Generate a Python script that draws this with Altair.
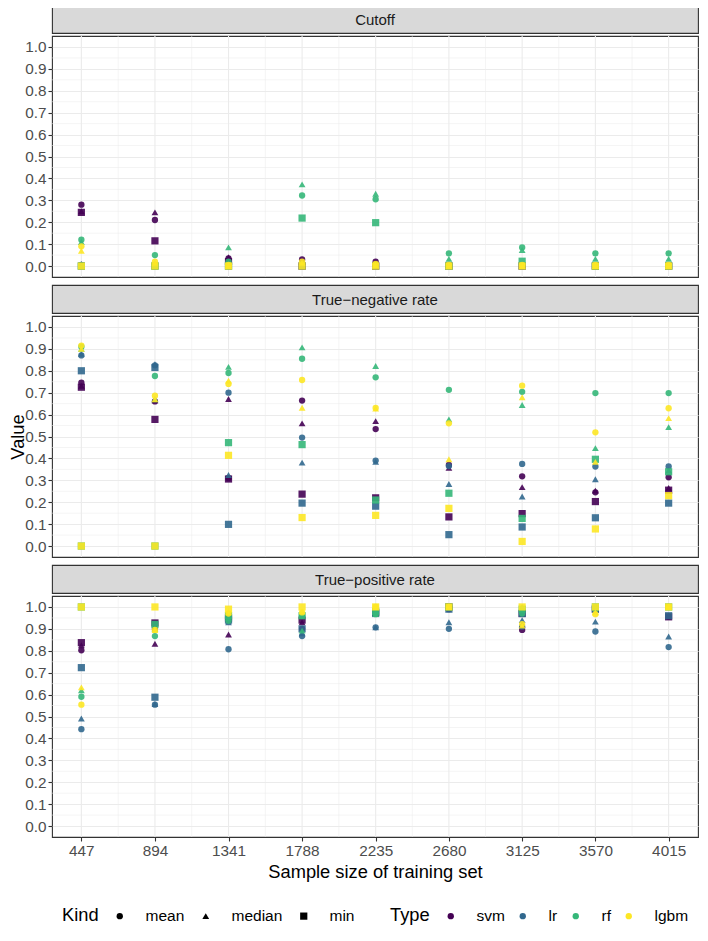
import altair as alt
import pandas as pd

FONT = "Liberation Sans"

sizes = [447, 894, 1341, 1788, 2235, 2680, 3125, 3570, 4015]
metrics = ["Cutoff", "True\u2212negative rate", "True\u2212positive rate"]
kinds = ["mean", "median", "min"]
types = ["svm", "lr", "rf", "lgbm"]
type_colors = ["#440154", "#31688E", "#35B779", "#FDE725"]
kind_shapes = ["circle", "triangle-up", "square"]
kind_sizes = [40, 52, 34]
y_breaks = [0.0, 0.1, 0.2, 0.3, 0.4, 0.5, 0.6, 0.7, 0.8, 0.9, 1.0]

# ---- Cutoff ----
cut_svm_mean = [0.28, 0.21, 0.035, 0.03, 0.02, 0.005, 0.005, 0.003, 0.003]
cut_svm_median = [0.25, 0.245, 0.04, 0.02, 0.015, 0.0, 0.0, 0.0, 0.0]
cut_svm_min = [0.245, 0.115, 0.02, 0.0, 0.0, 0.0, 0.0, 0.0, 0.0]
cut_lr_mean = [0.005, 0.0, 0.0, 0.01, 0.005, 0.0, 0.0, 0.0, 0.0]
cut_lr_median = [0.01, 0.0, 0.0, 0.0, 0.0, 0.0, 0.0, 0.0, 0.0]
cut_lr_min = [0.0, 0.0, 0.0, 0.0, 0.0, 0.0, 0.0, 0.0, 0.0]
cut_rf_mean = [0.12, 0.05, 0.02, 0.322, 0.305, 0.058, 0.085, 0.058, 0.058]
cut_rf_median = [0.11, 0.01, 0.085, 0.373, 0.33, 0.033, 0.073, 0.033, 0.033]
cut_rf_min = [0.0, 0.0, 0.0, 0.219, 0.198, 0.0, 0.022, 0.0, 0.0]
cut_lgbm_mean = [0.09, 0.02, 0.005, 0.02, 0.01, 0.005, 0.005, 0.005, 0.005]
cut_lgbm_median = [0.07, 0.015, 0.0, 0.015, 0.005, 0.0, 0.0, 0.0, 0.0]
cut_lgbm_min = [0.0, 0.0, 0.0, 0.0, 0.0, 0.0, 0.0, 0.0, 0.0]

# ---- True-negative rate ----
tnr_svm_mean = [0.746, 0.66, 0.31, 0.664, 0.534, 0.37, 0.318, 0.245, 0.314]
tnr_svm_median = [0.731, 0.665, 0.671, 0.56, 0.57, 0.357, 0.269, 0.253, 0.265]
tnr_svm_min = [0.725, 0.578, 0.306, 0.237, 0.22, 0.133, 0.148, 0.203, 0.255]
tnr_lr_mean = [0.87, 0.825, 0.70, 0.495, 0.39, 0.365, 0.375, 0.363, 0.363]
tnr_lr_median = [0.877, 0.83, 0.324, 0.381, 0.384, 0.283, 0.226, 0.305, 0.345]
tnr_lr_min = [0.80, 0.815, 0.099, 0.196, 0.182, 0.052, 0.087, 0.129, 0.196]
tnr_rf_mean = [0.91, 0.776, 0.79, 0.855, 0.77, 0.713, 0.704, 0.698, 0.698]
tnr_rf_median = [0.90, 0.67, 0.818, 0.907, 0.822, 0.578, 0.644, 0.447, 0.543]
tnr_rf_min = [0.0, 0.0, 0.472, 0.463, 0.21, 0.241, 0.126, 0.396, 0.339]
tnr_lgbm_mean = [0.915, 0.686, 0.74, 0.758, 0.63, 0.56, 0.732, 0.519, 0.629]
tnr_lgbm_median = [0.90, 0.67, 0.755, 0.631, 0.628, 0.396, 0.679, 0.384, 0.584]
tnr_lgbm_min = [0.0, 0.0, 0.414, 0.13, 0.14, 0.172, 0.021, 0.078, 0.23]

# ---- True-positive rate ----
tpr_svm_mean = [0.802, 0.90, 0.94, 0.90, 0.97, 0.99, 0.895, 0.99, 0.955]
tpr_svm_median = [0.825, 0.832, 0.874, 0.93, 0.97, 1.0, 0.92, 1.0, 0.96]
tpr_svm_min = [0.837, 0.927, 0.95, 0.94, 0.975, 1.0, 0.97, 0.99, 0.955]
tpr_lr_mean = [0.442, 0.554, 0.807, 0.867, 0.907, 0.90, 0.91, 0.888, 0.817]
tpr_lr_median = [0.491, 0.557, 0.93, 0.88, 0.907, 0.93, 0.94, 0.933, 0.865]
tpr_lr_min = [0.723, 0.588, 0.94, 0.90, 0.97, 0.99, 0.97, 0.99, 0.96]
tpr_rf_mean = [0.59, 0.867, 0.937, 0.96, 0.967, 1.0, 0.97, 0.99, 1.0]
tpr_rf_median = [0.62, 0.90, 0.95, 0.892, 0.967, 1.0, 1.0, 1.0, 1.0]
tpr_rf_min = [1.0, 0.92, 0.96, 0.96, 0.98, 1.0, 0.99, 1.0, 1.0]
tpr_lgbm_mean = [0.554, 0.895, 0.97, 0.975, 1.0, 1.0, 0.922, 0.967, 1.0]
tpr_lgbm_median = [0.633, 0.895, 0.975, 0.98, 1.0, 1.0, 0.915, 0.975, 1.0]
tpr_lgbm_min = [1.0, 1.0, 0.99, 1.0, 1.0, 1.0, 1.0, 1.0, 1.0]

series = {
    metrics[0]: {
        "svm": [cut_svm_mean, cut_svm_median, cut_svm_min],
        "lr": [cut_lr_mean, cut_lr_median, cut_lr_min],
        "rf": [cut_rf_mean, cut_rf_median, cut_rf_min],
        "lgbm": [cut_lgbm_mean, cut_lgbm_median, cut_lgbm_min],
    },
    metrics[1]: {
        "svm": [tnr_svm_mean, tnr_svm_median, tnr_svm_min],
        "lr": [tnr_lr_mean, tnr_lr_median, tnr_lr_min],
        "rf": [tnr_rf_mean, tnr_rf_median, tnr_rf_min],
        "lgbm": [tnr_lgbm_mean, tnr_lgbm_median, tnr_lgbm_min],
    },
    metrics[2]: {
        "svm": [tpr_svm_mean, tpr_svm_median, tpr_svm_min],
        "lr": [tpr_lr_mean, tpr_lr_median, tpr_lr_min],
        "rf": [tpr_rf_mean, tpr_rf_median, tpr_rf_min],
        "lgbm": [tpr_lgbm_mean, tpr_lgbm_median, tpr_lgbm_min],
    },
}

rows = []
for m in metrics:
    for t in types:
        for k, vals in zip(kinds, series[m][t]):
            for s, v in zip(sizes, vals):
                rows.append({"metric": m, "type": t, "kind": k, "size": s, "value": v})
df = pd.DataFrame(rows)

W = 646
H = 241
STRIP_H = 28

span = sizes[-1] - sizes[0]
x_dom = [sizes[0] - 0.05 * span, sizes[-1] + 0.05 * span]
y_dom = [-0.05, 1.05]
x_minor = [(a + b) / 2 for a, b in zip(sizes[:-1], sizes[1:])]
y_minor = [round(b + 0.05, 2) for b in y_breaks[:-1]]

xscale = alt.Scale(domain=x_dom, nice=False, zero=False)
yscale = alt.Scale(domain=y_dom, nice=False, zero=False)

kind_legend = alt.Legend(
    title="Kind", orient="none", legendX=10, legendY=903,
    direction="horizontal", titleOrient="left",
    labelOffset=18, columnPadding=13, titlePadding=13,
    symbolFillColor="#000000", symbolStrokeColor="#000000",
    symbolStrokeWidth=0, symbolOpacity=1, labelFontSize=15.5,
)
type_legend = alt.Legend(
    title="Type", orient="none", legendX=338, legendY=903,
    direction="horizontal", titleOrient="left", symbolType="circle",
    symbolSize=40, labelOffset=18, columnPadding=10, titlePadding=13,
    symbolStrokeWidth=0, symbolOpacity=1, labelFontSize=15.5,
)


def panel(metric, idx):
    bottom = idx == 2
    middle = idx == 1
    d = df[df.metric == metric]
    if bottom:
        x_axis = alt.Axis(values=sizes, grid=False, format="d",
                          title="Sample size of training set", titlePadding=5,
                          labelFlush=False)
    else:
        x_axis = None
    y_axis = alt.Axis(values=y_breaks, format=".1f", grid=True,
                      title="Value" if middle else None, titlePadding=-3,
                      labelFlush=False)

    minor_y = alt.Chart(pd.DataFrame({"v": y_minor})).mark_rule(
        color="#EBEBEB", strokeWidth=0.55
    ).encode(y=alt.Y("v:Q", scale=yscale, axis=y_axis))
    minor_x = alt.Chart(pd.DataFrame({"u": x_minor})).mark_rule(
        color="#EBEBEB", strokeWidth=0.55
    ).encode(x=alt.X("u:Q", scale=xscale, axis=x_axis))
    major_x = alt.Chart(pd.DataFrame({"u": sizes})).mark_rule(
        color="#EBEBEB", strokeWidth=1.1
    ).encode(x=alt.X("u:Q", scale=xscale, axis=x_axis))

    pts = alt.Chart(d).mark_point(filled=True, opacity=0.9, strokeWidth=0).encode(
        x=alt.X("size:Q", scale=xscale, axis=x_axis),
        y=alt.Y("value:Q", scale=yscale, axis=y_axis),
        color=alt.Color(
            "type:N",
            scale=alt.Scale(domain=types, range=type_colors),
            legend=type_legend,
        ),
        shape=alt.Shape(
            "kind:N",
            scale=alt.Scale(domain=kinds, range=kind_shapes),
            legend=kind_legend,
        ),
        size=alt.Size(
            "kind:N",
            scale=alt.Scale(domain=kinds, range=kind_sizes),
            legend=kind_legend,
        ),
    )

    plot = alt.layer(minor_y, minor_x, major_x, pts).properties(
        width=W, height=H,
        view=alt.ViewBackground(fill="white", stroke="#333333", strokeWidth=1.1),
    )

    strip = alt.Chart(pd.DataFrame({"label": [metric]})).mark_text(
        font=FONT, fontSize=15, color="#1A1A1A", baseline="middle", align="center"
    ).encode(
        text="label:N", x=alt.value(W / 2), y=alt.value(STRIP_H / 2 + 1)
    ).properties(
        width=W, height=STRIP_H,
        view=alt.ViewBackground(fill="#D9D9D9", stroke="#333333", strokeWidth=1.1),
    )
    return alt.vconcat(strip, plot, spacing=0)


chart = alt.vconcat(*[panel(m, i) for i, m in enumerate(metrics)], spacing=5).properties(
    padding={"top": -4, "left": 0, "right": 0, "bottom": 0}
).configure_axis(
    labelFont=FONT, titleFont=FONT, labelFontSize=15.3, titleFontSize=18.3,
    labelColor="#4D4D4D", titleColor="#000000", titleFontWeight="normal",
    tickColor="#333333", tickSize=4, tickWidth=1.1, labelPadding=2, domain=False,
    gridColor="#EBEBEB", gridWidth=1.1,
).configure_legend(
    labelFont=FONT, titleFont=FONT, labelFontSize=15.5, titleFontSize=18.3,
    titleFontWeight="normal", labelColor="#000000", titleColor="#000000",
).configure_view(strokeWidth=1.1)

chart.save("out.html", embed_options={"renderer": "svg", "actions": False})
